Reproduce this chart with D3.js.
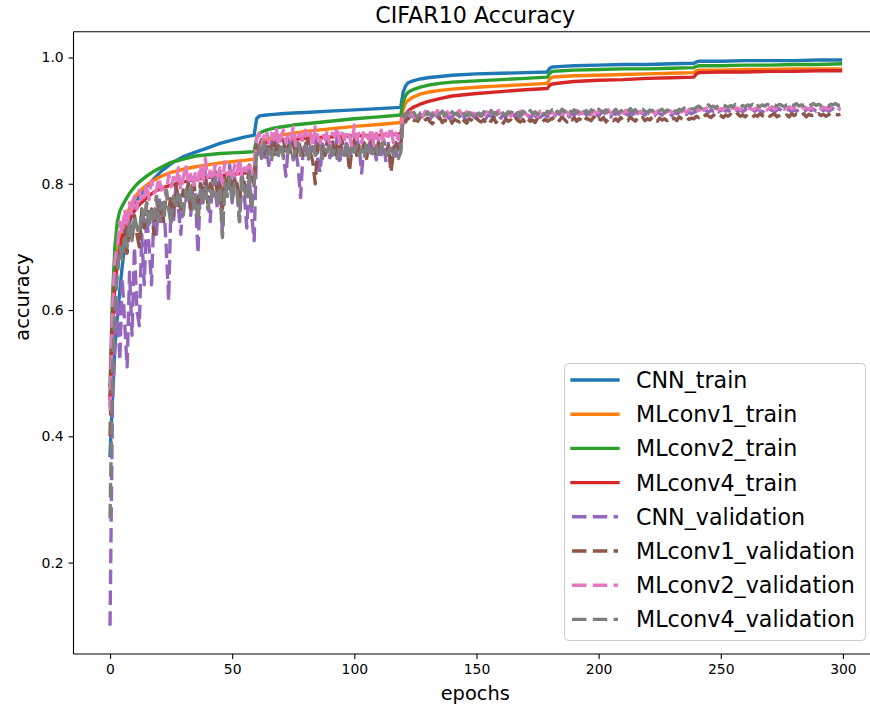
<!DOCTYPE html>
<html>
<head>
<meta charset="utf-8">
<script src="https://cdn.jsdelivr.net/npm/d3@7"></script>
<style>
  html, body { margin: 0; padding: 0; background: #fff; }
  svg { display: block; font-family: "DejaVu Sans", sans-serif; }
</style>
</head>
<body>
<svg id="chart" width="870" height="711"></svg>
<script>
// ---------------- DATA ----------------
const seriesNames = ["CNN_train", "MLconv1_train", "MLconv2_train", "MLconv4_train",
  "CNN_validation", "MLconv1_validation", "MLconv2_validation", "MLconv4_validation"];
const xTicks = [0, 50, 100, 150, 200, 250, 300];
const yTicks = [0.2, 0.4, 0.6, 0.8, 1.0];
const yTickLabels = ["0.2", "0.4", "0.6", "0.8", "1.0"];

// training curves, read at these epochs
const trainEpochs = [0,1,2,3,4,5,6,8,10,12,15,18,21,25,30,35,40,45,50,55,59,60,61,62,64,67,70,75,80,90,100,110,119,
  120,121,122,124,127,130,135,140,150,160,170,179,180,181,185,190,200,210,220,230,239,240,241,250,260,270,280,290,299];
const cnnTrain = [0.370,0.460,0.540,0.590,0.630,0.670,0.700,0.740,0.765,0.780,0.795,0.808,0.820,0.832,0.843,0.850,0.857,0.864,0.869,0.874,0.877,
  0.903,0.907,0.908,0.909,0.910,0.911,0.912,0.913,0.915,0.917,0.919,0.921,
  0.945,0.955,0.960,0.963,0.966,0.968,0.970,0.972,0.974,0.975,0.976,0.977,0.983,0.985,0.986,0.987,0.988,0.989,0.989,0.990,0.991,
  0.993,0.994,0.994,0.995,0.995,0.995,0.996,0.996];
const mlconv1Train = [0.450,0.580,0.650,0.690,0.715,0.730,0.742,0.762,0.778,0.788,0.798,0.806,0.812,0.818,0.823,0.827,0.830,0.833,0.835,0.837,0.839,
  0.855,0.862,0.866,0.870,0.874,0.877,0.880,0.883,0.887,0.891,0.894,0.897,
  0.918,0.928,0.932,0.937,0.942,0.945,0.948,0.950,0.953,0.955,0.957,0.959,0.966,0.969,0.970,0.971,0.972,0.973,0.974,0.975,0.976,
  0.979,0.980,0.980,0.981,0.981,0.982,0.982,0.982];
const mlconv2Train = [0.480,0.620,0.700,0.740,0.757,0.765,0.772,0.785,0.795,0.803,0.812,0.820,0.826,0.834,0.839,0.844,0.846,0.848,0.849,0.850,0.851,
  0.872,0.879,0.882,0.885,0.888,0.890,0.893,0.895,0.899,0.903,0.906,0.909,
  0.930,0.940,0.945,0.949,0.953,0.956,0.959,0.961,0.963,0.965,0.967,0.969,0.975,0.978,0.979,0.980,0.981,0.982,0.982,0.983,0.984,
  0.986,0.987,0.987,0.988,0.988,0.989,0.989,0.990];
const mlconv4Train = [0.460,0.580,0.640,0.675,0.700,0.715,0.728,0.745,0.757,0.767,0.778,0.787,0.793,0.798,0.803,0.807,0.810,0.813,0.815,0.817,0.819,
  0.845,0.856,0.861,0.865,0.867,0.869,0.870,0.872,0.874,0.876,0.877,0.879,
  0.900,0.910,0.915,0.921,0.926,0.930,0.935,0.939,0.943,0.946,0.949,0.951,0.956,0.958,0.960,0.962,0.964,0.965,0.967,0.968,0.969,
  0.974,0.976,0.977,0.977,0.978,0.978,0.979,0.979];

// validation curves, one value per epoch 0..299
const cnnVal = [
  0.100,0.450,0.550,0.620,0.520,0.650,0.580,0.510,0.660,0.560,
  0.700,0.600,0.575,0.720,0.640,0.750,0.700,0.640,0.760,0.720,
  0.780,0.740,0.770,0.700,0.615,0.780,0.740,0.800,0.760,0.720,
  0.790,0.770,0.810,0.750,0.800,0.780,0.690,0.800,0.770,0.820,
  0.780,0.740,0.810,0.790,0.760,0.820,0.720,0.800,0.780,0.830,
  0.770,0.810,0.790,0.740,0.820,0.780,0.730,0.810,0.750,0.710,
  0.862,0.848,0.871,0.836,0.858,0.829,0.866,0.851,0.874,0.842,
  0.857,0.846,0.812,0.861,0.869,0.838,0.855,0.827,0.778,0.849,
  0.868,0.843,0.859,0.852,0.872,0.839,0.818,0.863,0.847,0.870,
  0.841,0.858,0.853,0.873,0.831,0.862,0.849,0.868,0.836,0.860,
  0.851,0.871,0.857,0.817,0.864,0.843,0.869,0.848,0.859,0.838,
  0.872,0.846,0.861,0.834,0.867,0.852,0.858,0.840,0.870,0.854,
  0.905,0.908,0.903,0.910,0.906,0.912,0.904,0.909,0.907,0.911,
  0.905,0.902,0.908,0.910,0.906,0.904,0.909,0.912,0.907,0.903,
  0.906,0.910,0.904,0.908,0.911,0.905,0.900,0.907,0.910,0.906,
  0.903,0.909,0.912,0.906,0.904,0.910,0.907,0.905,0.911,0.908,
  0.904,0.909,0.906,0.912,0.905,0.908,0.910,0.903,0.907,0.911,
  0.906,0.909,0.904,0.910,0.907,0.912,0.905,0.908,0.911,0.906,
  0.909,0.912,0.907,0.913,0.910,0.908,0.914,0.911,0.906,0.912,
  0.909,0.913,0.907,0.911,0.914,0.909,0.912,0.908,0.913,0.910,
  0.907,0.912,0.914,0.909,0.911,0.906,0.913,0.910,0.912,0.908,
  0.914,0.911,0.909,0.913,0.910,0.912,0.907,0.914,0.911,0.909,
  0.913,0.910,0.912,0.908,0.914,0.911,0.909,0.913,0.910,0.912,
  0.908,0.914,0.911,0.913,0.909,0.912,0.910,0.914,0.911,0.913,
  0.915,0.917,0.914,0.918,0.916,0.913,0.917,0.915,0.918,0.914,
  0.916,0.918,0.915,0.917,0.913,0.916,0.918,0.915,0.917,0.914,
  0.918,0.916,0.914,0.917,0.915,0.918,0.916,0.913,0.917,0.915,
  0.918,0.916,0.914,0.917,0.919,0.915,0.917,0.916,0.918,0.914,
  0.917,0.915,0.918,0.916,0.914,0.917,0.919,0.916,0.918,0.915,
  0.917,0.919,0.916,0.918,0.915,0.917,0.919,0.916,0.918,0.917];
const mlconv1Val = [
  0.400,0.560,0.620,0.660,0.700,0.680,0.730,0.690,0.740,0.710,
  0.750,0.720,0.700,0.760,0.730,0.770,0.740,0.760,0.720,0.780,
  0.750,0.770,0.740,0.790,0.760,0.780,0.750,0.800,0.770,0.760,
  0.790,0.780,0.800,0.760,0.810,0.780,0.770,0.800,0.790,0.810,
  0.770,0.800,0.790,0.820,0.780,0.800,0.760,0.810,0.790,0.820,
  0.780,0.810,0.800,0.770,0.820,0.800,0.790,0.830,0.810,0.800,
  0.860,0.850,0.870,0.855,0.845,0.865,0.850,0.870,0.840,0.860,
  0.855,0.870,0.845,0.860,0.850,0.865,0.840,0.870,0.855,0.845,
  0.860,0.870,0.850,0.835,0.800,0.860,0.870,0.850,0.845,0.865,
  0.855,0.870,0.840,0.860,0.850,0.870,0.845,0.860,0.820,0.855,
  0.870,0.845,0.860,0.850,0.865,0.840,0.860,0.870,0.850,0.845,
  0.865,0.855,0.870,0.845,0.860,0.818,0.850,0.865,0.855,0.860,
  0.902,0.898,0.905,0.900,0.896,0.903,0.899,0.906,0.897,0.901,
  0.904,0.898,0.895,0.902,0.900,0.905,0.897,0.901,0.899,0.904,
  0.896,0.902,0.900,0.898,0.905,0.899,0.896,0.903,0.901,0.897,
  0.904,0.900,0.898,0.902,0.895,0.901,0.899,0.905,0.897,0.902,
  0.900,0.896,0.903,0.899,0.901,0.897,0.904,0.900,0.898,0.902,
  0.896,0.903,0.899,0.901,0.897,0.904,0.900,0.898,0.902,0.899,
  0.901,0.904,0.899,0.903,0.900,0.906,0.902,0.898,0.904,0.901,
  0.905,0.899,0.903,0.901,0.897,0.904,0.902,0.900,0.906,0.899,
  0.903,0.901,0.905,0.898,0.902,0.904,0.900,0.903,0.899,0.905,
  0.901,0.903,0.900,0.906,0.902,0.899,0.904,0.901,0.905,0.900,
  0.903,0.901,0.906,0.902,0.899,0.904,0.901,0.903,0.900,0.905,
  0.902,0.904,0.900,0.906,0.903,0.901,0.905,0.902,0.904,0.903,
  0.907,0.905,0.909,0.906,0.910,0.907,0.905,0.909,0.906,0.910,
  0.908,0.905,0.909,0.907,0.910,0.906,0.908,0.911,0.907,0.909,
  0.906,0.910,0.908,0.905,0.909,0.907,0.911,0.908,0.906,0.910,
  0.907,0.909,0.911,0.906,0.908,0.910,0.907,0.909,0.906,0.911,
  0.908,0.910,0.907,0.909,0.911,0.906,0.910,0.908,0.909,0.907,
  0.911,0.908,0.910,0.907,0.909,0.911,0.908,0.910,0.909,0.910];
const mlconv2Val = [
  0.440,0.600,0.680,0.700,0.740,0.720,0.760,0.730,0.770,0.750,
  0.780,0.760,0.790,0.770,0.780,0.800,0.775,0.805,0.785,0.790,
  0.810,0.790,0.800,0.780,0.815,0.795,0.810,0.800,0.825,0.790,
  0.810,0.830,0.800,0.815,0.795,0.820,0.805,0.830,0.800,0.840,
  0.810,0.820,0.805,0.830,0.810,0.825,0.800,0.835,0.815,0.820,
  0.805,0.830,0.815,0.840,0.810,0.825,0.820,0.835,0.815,0.830,
  0.870,0.880,0.860,0.875,0.885,0.865,0.880,0.870,0.890,0.860,
  0.875,0.885,0.865,0.880,0.870,0.890,0.860,0.875,0.880,0.865,
  0.885,0.870,0.880,0.860,0.890,0.875,0.865,0.880,0.870,0.885,
  0.860,0.880,0.875,0.890,0.865,0.880,0.870,0.885,0.875,0.860,
  0.893,0.870,0.880,0.865,0.885,0.875,0.870,0.888,0.860,0.880,
  0.870,0.885,0.865,0.880,0.875,0.890,0.865,0.880,0.870,0.885,
  0.908,0.912,0.906,0.914,0.909,0.905,0.913,0.910,0.907,0.915,
  0.911,0.906,0.913,0.909,0.916,0.908,0.912,0.905,0.914,0.910,
  0.907,0.913,0.909,0.916,0.911,0.906,0.914,0.908,0.912,0.910,
  0.915,0.907,0.911,0.909,0.914,0.912,0.906,0.913,0.910,0.916,
  0.908,0.912,0.910,0.914,0.907,0.913,0.911,0.909,0.915,0.910,
  0.912,0.908,0.914,0.910,0.913,0.907,0.915,0.911,0.909,0.913,
  0.911,0.914,0.909,0.915,0.912,0.910,0.916,0.913,0.909,0.914,
  0.912,0.916,0.910,0.913,0.915,0.911,0.914,0.909,0.916,0.912,
  0.914,0.910,0.915,0.912,0.917,0.911,0.913,0.915,0.910,0.914,
  0.912,0.916,0.911,0.914,0.913,0.917,0.911,0.915,0.913,0.916,
  0.912,0.914,0.916,0.911,0.915,0.913,0.917,0.912,0.914,0.916,
  0.913,0.915,0.912,0.917,0.914,0.916,0.913,0.918,0.915,0.917,
  0.918,0.916,0.919,0.917,0.920,0.918,0.916,0.919,0.921,0.917,
  0.919,0.918,0.920,0.916,0.919,0.921,0.918,0.920,0.917,0.919,
  0.921,0.918,0.920,0.917,0.919,0.921,0.918,0.920,0.919,0.917,
  0.920,0.922,0.918,0.920,0.919,0.921,0.918,0.920,0.922,0.919,
  0.921,0.918,0.920,0.919,0.922,0.920,0.918,0.921,0.919,0.920,
  0.922,0.919,0.921,0.920,0.918,0.921,0.920,0.922,0.919,0.920];
const mlconv4Val = [
  0.270,0.500,0.600,0.660,0.700,0.680,0.720,0.700,0.740,0.710,
  0.750,0.730,0.720,0.760,0.740,0.770,0.730,0.760,0.745,0.780,
  0.740,0.770,0.750,0.790,0.760,0.735,0.780,0.760,0.790,0.770,
  0.750,0.790,0.770,0.800,0.760,0.780,0.740,0.790,0.770,0.800,
  0.760,0.790,0.780,0.810,0.770,0.790,0.715,0.800,0.780,0.810,
  0.770,0.800,0.790,0.740,0.810,0.790,0.775,0.820,0.760,0.800,
  0.850,0.860,0.840,0.865,0.845,0.855,0.835,0.860,0.850,0.845,
  0.865,0.840,0.855,0.850,0.860,0.840,0.855,0.865,0.845,0.850,
  0.860,0.835,0.855,0.865,0.845,0.850,0.860,0.840,0.855,0.850,
  0.865,0.845,0.855,0.840,0.860,0.850,0.845,0.865,0.840,0.855,
  0.850,0.860,0.845,0.855,0.840,0.865,0.850,0.855,0.845,0.860,
  0.840,0.855,0.865,0.845,0.850,0.860,0.845,0.855,0.840,0.850,
  0.910,0.906,0.913,0.908,0.915,0.909,0.904,0.912,0.910,0.907,
  0.914,0.909,0.911,0.906,0.913,0.910,0.915,0.908,0.911,0.907,
  0.914,0.910,0.912,0.906,0.915,0.911,0.908,0.913,0.909,0.916,
  0.910,0.912,0.907,0.914,0.911,0.909,0.916,0.910,0.913,0.908,
  0.915,0.911,0.909,0.914,0.912,0.916,0.910,0.913,0.908,0.915,
  0.912,0.909,0.916,0.911,0.914,0.910,0.917,0.912,0.909,0.915,
  0.913,0.917,0.911,0.915,0.912,0.918,0.914,0.910,0.916,0.913,
  0.917,0.912,0.915,0.918,0.913,0.916,0.911,0.917,0.914,0.912,
  0.918,0.915,0.913,0.917,0.911,0.916,0.914,0.918,0.912,0.915,
  0.917,0.913,0.916,0.919,0.914,0.917,0.912,0.916,0.918,0.915,
  0.913,0.917,0.915,0.919,0.914,0.916,0.918,0.913,0.917,0.915,
  0.919,0.916,0.914,0.918,0.916,0.920,0.917,0.915,0.919,0.918,
  0.921,0.923,0.920,0.924,0.922,0.925,0.921,0.923,0.920,0.924,
  0.922,0.925,0.923,0.921,0.924,0.922,0.926,0.923,0.921,0.924,
  0.922,0.925,0.923,0.926,0.921,0.924,0.922,0.925,0.923,0.926,
  0.924,0.922,0.925,0.923,0.926,0.924,0.922,0.925,0.923,0.926,
  0.924,0.927,0.923,0.925,0.924,0.926,0.923,0.925,0.927,0.924,
  0.926,0.924,0.927,0.925,0.923,0.926,0.925,0.927,0.924,0.925];

const colors = ["#1f77b4", "#ff7f0e", "#2ca02c", "#d62728", "#9467bd", "#8c564b", "#e377c2", "#7f7f7f"];

// ---------------- BUILD ----------------
const series = [
  { name: seriesNames[0], pts: trainEpochs.map((e, i) => [e, cnnTrain[i]]), dashed: false },
  { name: seriesNames[1], pts: trainEpochs.map((e, i) => [e, mlconv1Train[i]]), dashed: false },
  { name: seriesNames[2], pts: trainEpochs.map((e, i) => [e, mlconv2Train[i]]), dashed: false },
  { name: seriesNames[3], pts: trainEpochs.map((e, i) => [e, mlconv4Train[i]]), dashed: false },
  { name: seriesNames[4], pts: cnnVal.map((v, i) => [i, v]), dashed: true },
  { name: seriesNames[5], pts: mlconv1Val.map((v, i) => [i, v]), dashed: true },
  { name: seriesNames[6], pts: mlconv2Val.map((v, i) => [i, v]), dashed: true },
  { name: seriesNames[7], pts: mlconv4Val.map((v, i) => [i, v]), dashed: true }
];
series.forEach((s, i) => s.color = colors[i]);

const svg = d3.select("#chart");
const W = 870, H = 711;
const plot = { left: 73.5, right: 877, top: 31.75, bottom: 654 };

const allPts = series.flatMap(s => s.pts);
const xExt = d3.extent(allPts, d => d[0]);
const yExt = d3.extent(allPts, d => d[1]);
const xPad = (xExt[1] - xExt[0]) * 0.05, yPad = (yExt[1] - yExt[0]) * 0.05;

const x = d3.scaleLinear().domain([xExt[0] - xPad, xExt[1] + xPad]).range([plot.left, plot.right]);
const y = d3.scaleLinear().domain([yExt[0] - yPad, yExt[1] + yPad]).range([plot.bottom, plot.top]);

svg.append("rect").attr("width", W).attr("height", H).attr("fill", "#fff");

svg.append("defs").append("clipPath").attr("id", "clip")
  .append("rect").attr("x", plot.left).attr("y", plot.top)
  .attr("width", plot.right - plot.left).attr("height", plot.bottom - plot.top);

const line = d3.line().x(d => x(d[0])).y(d => y(d[1]));
const lw = 3.4;
const dash = "14.5,6.3";

const g = svg.append("g").attr("clip-path", "url(#clip)");
series.forEach(s => {
  g.append("path")
    .attr("d", line(s.pts))
    .attr("fill", "none")
    .attr("stroke", s.color)
    .attr("stroke-width", lw)
    .attr("stroke-linejoin", "round")
    .attr("stroke-linecap", s.dashed ? "butt" : "square")
    .attr("stroke-dasharray", s.dashed ? dash : null);
});

// Axes
const tickSize = 4.9, tickPad = 4.9, fsTick = 13.9;
const xAxis = d3.axisBottom(x).tickValues(xTicks).tickFormat(d3.format("d"))
  .tickSize(tickSize).tickPadding(tickPad).tickSizeOuter(0);
const yAxis = d3.axisLeft(y).tickValues(yTicks).tickFormat((d, i) => yTickLabels[i])
  .tickSize(tickSize).tickPadding(tickPad).tickSizeOuter(0);

const gx = svg.append("g").attr("transform", `translate(0,${plot.bottom})`).call(xAxis);
const gy = svg.append("g").attr("transform", `translate(${plot.left},0)`).call(yAxis);
[gx, gy].forEach(a => {
  a.select(".domain").remove();
  a.selectAll(".tick line").attr("stroke", "#000").attr("stroke-width", 1.1);
  a.selectAll(".tick text").attr("fill", "#000").attr("font-size", fsTick)
    .attr("font-family", "DejaVu Sans");
});

// spines
const sp = svg.append("g").attr("stroke", "#000").attr("stroke-width", 1.1).attr("fill", "none");
sp.append("line").attr("x1", plot.left).attr("x2", plot.left).attr("y1", plot.top).attr("y2", plot.bottom);
sp.append("line").attr("x1", plot.left).attr("x2", plot.right).attr("y1", plot.bottom).attr("y2", plot.bottom);
sp.append("line").attr("x1", plot.left).attr("x2", plot.right).attr("y1", plot.top).attr("y2", plot.top);
sp.append("line").attr("x1", plot.right).attr("x2", plot.right).attr("y1", plot.top).attr("y2", plot.bottom);

const cx = (plot.left + plot.right) / 2;
svg.append("text").attr("x", cx).attr("y", 23).attr("text-anchor", "middle")
  .attr("font-size", 22.2).attr("fill", "#000").text("CIFAR10 Accuracy");
svg.append("text").attr("x", cx).attr("y", 700).attr("text-anchor", "middle")
  .attr("font-size", 19.4).attr("fill", "#000").text("epochs");
svg.append("text").attr("transform", `translate(29,297) rotate(-90)`).attr("text-anchor", "middle")
  .attr("font-size", 19.4).attr("fill", "#000").text("accuracy");

// Legend
const leg = { x: 564, y: 363, w: 301, h: 277, row: 34.2, fs: 22.2 };
svg.append("rect").attr("x", leg.x + 0.5).attr("y", leg.y + 0.5).attr("width", leg.w).attr("height", leg.h)
  .attr("rx", 4).attr("fill", "#fff").attr("fill-opacity", 0.8)
  .attr("stroke", "#cccccc").attr("stroke-width", 1);
series.forEach((s, i) => {
  const ry = leg.y + 17 + i * leg.row;
  svg.append("line").attr("x1", 572).attr("x2", 618).attr("y1", ry).attr("y2", ry)
    .attr("stroke", s.color).attr("stroke-width", lw)
    .attr("stroke-linecap", s.dashed ? "butt" : "square")
    .attr("stroke-dasharray", s.dashed ? dash : null);
  svg.append("text").attr("x", 636).attr("y", ry + 8).attr("font-size", leg.fs)
    .attr("fill", "#000").text(s.name);
});
</script>
</body>
</html>
